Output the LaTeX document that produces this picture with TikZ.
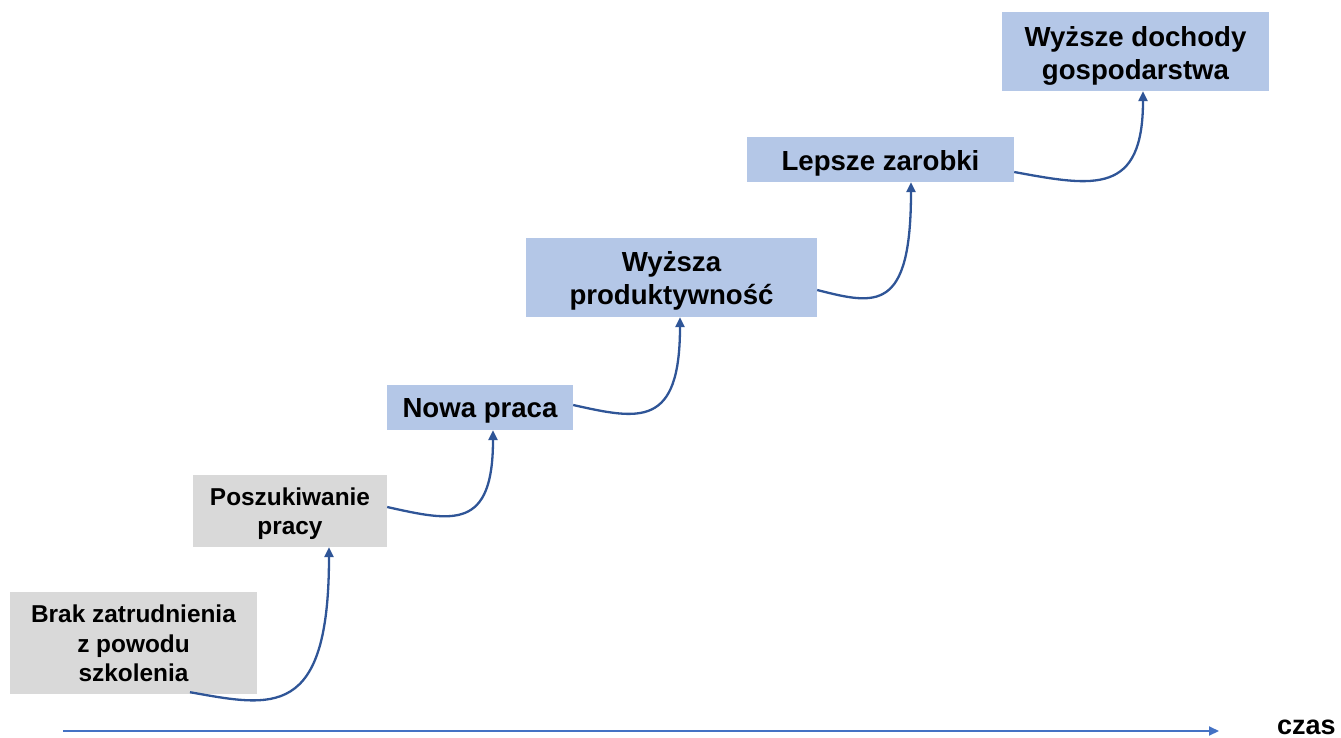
\documentclass[tikz,border=0pt]{standalone}
\usepackage{fontspec}
\setmainfont{Liberation Sans}
\usetikzlibrary{calc,arrows.meta}
\definecolor{boxgray}{HTML}{D9D9D9}
\definecolor{boxblue}{HTML}{B4C7E7}
\definecolor{linkblue}{HTML}{2F5597}
\definecolor{axisblue}{HTML}{4472C4}
\tikzset{
  graybox/.style={fill=boxgray, inner sep=0pt},
  bluebox/.style={fill=boxblue, inner sep=0pt},
  graytext/.style={inner sep=0pt, align=center, font=\fontsize{24.4}{29.5}\selectfont\bfseries},
  bluetext/.style={inner sep=0pt, align=center, font=\fontsize{27.6}{33.5}\selectfont\bfseries},
  link/.style={draw=linkblue, line width=2.3pt, -{Triangle[length=10pt,width=9pt]}},
  axis/.style={draw=axisblue, line width=2pt, -{Triangle[length=10pt,width=9pt]}}
}
\begin{document}
\begin{tikzpicture}[x=1pt,y=-1pt]
\useasboundingbox (0,0) rectangle (1341,738);
% boxes
\node[graybox, minimum width=247pt, minimum height=102pt] (b1) at (133.5,643) {};
\node[graybox, minimum width=194pt, minimum height=72pt] (b2) at (290,511) {};
\node[bluebox, minimum width=186pt, minimum height=45pt] (b3) at (480,407.5) {};
\node[bluebox, minimum width=291pt, minimum height=79pt] (b4) at (671.5,277.5) {};
\node[bluebox, minimum width=267pt, minimum height=45pt] (b5) at (880.5,159.5) {};
\node[bluebox, minimum width=267pt, minimum height=79pt] (b6) at (1135.5,51.5) {};
% texts
\node[graytext] (t1) at ($(b1.center)+(0,0.5)$) {Brak zatrudnienia\\z powodu\\szkolenia};
\node[graytext] (t2) at ($(b2.center)+(0,2.5)$) {Poszukiwanie\\pracy};
\node[bluetext] (t3) at ($(b3.center)+(0,3.5)$) {Nowa praca};
\node[bluetext] (t4) at ($(b4.center)+(0,3.5)$) {Wyższa\\produktywność};
\node[bluetext] (t5) at ($(b5.center)+(0,3.5)$) {Lepsze zarobki};
\node[bluetext] (t6) at ($(b6.center)+(0,4.5)$) {Wyższe dochody\\gospodarstwa};
% connectors
\draw[link] ($(b1.south)+(56.5,-2)$) .. controls (273,707) and (329,720) .. ($(b2.south)+(39,0)$);
\draw[link] ($(b2.east)+(0,-4)$) .. controls (454,522) and (493,530) .. ($(b3.south)+(13,0)$);
\draw[link] ($(b3.east)+(0,-2.5)$) .. controls (640,420) and (680,428) .. ($(b4.south)+(8.5,0)$);
\draw[link] ($(b4.east)+(0,12.5)$) .. controls (876,305) and (911,313) .. ($(b5.south)+(30.5,0)$);
\draw[link] ($(b5.east)+(0,12.5)$) .. controls (1095,187) and (1143,195) .. ($(b6.south)+(7.5,0)$);
% time axis
\coordinate (a0) at (63,731);
\coordinate (a1) at (1219,731);
\draw[axis] (a0) -- (a1);
\node[anchor=base west, inner sep=0pt, font=\fontsize{27}{32}\selectfont\bfseries] (czas) at (1277,734) {czas};
\end{tikzpicture}
\end{document}
